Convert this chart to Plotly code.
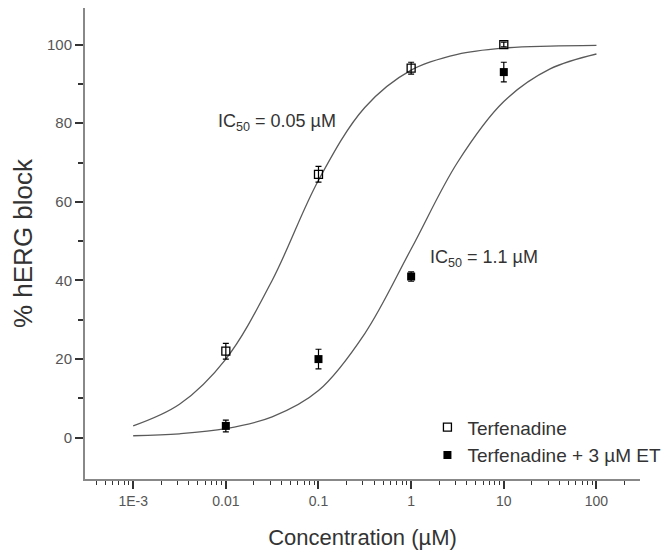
import plotly.graph_objects as go

# measured data points
conc = [0.01, 0.1, 1, 10]
terf = [22, 67, 94, 100]
terf_err = [2, 2, 1.5, 0.6]
terf_et = [3, 20, 41, 93]
terf_et_err = [1.5, 2.5, 1.2, 2.5]

# fitted curves (at half-decade steps)
fit_x = [0.001, 0.00316, 0.01, 0.0316, 0.1, 0.316, 1, 3.16, 10, 31.6, 100]
fit_terf = [3, 8.5, 20, 40, 65.5, 84, 93.5, 97.5, 99.1, 99.6, 99.8]
fit_terf_et = [0.5, 1.0, 2.3, 5.3, 12, 26.5, 48, 70, 85.5, 93.8, 97.6]

x_tickvals = [0.001, 0.01, 0.1, 1, 10, 100]
x_ticktext = ["1E-3", "0.01", "0.1", "1", "10", "100"]
y_tickvals = [0, 20, 40, 60, 80, 100]
y_minor = [10, 30, 50, 70, 90]
x_minor = [k * 10.0 ** e for e in range(-4, 3) for k in range(2, 10)]

FONT = "Liberation Sans, Arial, sans-serif"

fig = go.Figure()
fig.add_trace(go.Scatter(x=fit_x, y=fit_terf, mode="lines", line=dict(color="#5a5a5a", width=1.3, shape="spline"),
                         showlegend=False, hoverinfo="skip"))
fig.add_trace(go.Scatter(x=fit_x, y=fit_terf_et, mode="lines", line=dict(color="#5a5a5a", width=1.3, shape="spline"),
                         showlegend=False, hoverinfo="skip"))
fig.add_trace(go.Scatter(x=conc, y=terf, mode="markers", name="Terfenadine",
                         marker=dict(symbol="square-open", size=8, color="black", line=dict(width=1.3)),
                         error_y=dict(type="data", array=terf_err, color="black", thickness=1.2, width=3)))
fig.add_trace(go.Scatter(x=conc, y=terf_et, mode="markers", name="Terfenadine + 3 µM ET",
                         marker=dict(symbol="square", size=8, color="black"),
                         error_y=dict(type="data", array=terf_et_err, color="black", thickness=1.2, width=3)))

fig.add_annotation(x=0.236, y=0.756, xref="paper", yref="paper", xanchor="left", yanchor="middle",
                   text="IC<sub>50</sub> = 0.05 µM", showarrow=False, font=dict(family=FONT, size=18, color="#333"))
fig.add_annotation(x=0.618, y=0.469, xref="paper", yref="paper", xanchor="left", yanchor="middle",
                   text="IC<sub>50</sub> = 1.1 µM", showarrow=False, font=dict(family=FONT, size=18, color="#333"))

fig.update_layout(
    width=662, height=550,
    margin=dict(l=77, r=30, t=0, b=79, pad=0),
    paper_bgcolor="white", plot_bgcolor="white",
    font=dict(family=FONT, color="#333"),
    legend=dict(x=0.617, y=0.15, xanchor="left", yanchor="top", bgcolor="rgba(0,0,0,0)",
                font=dict(family=FONT, size=19, color="#333"), itemwidth=30, tracegroupgap=2),
    xaxis=dict(type="log", range=[-3.52, 2.47], tickvals=x_tickvals, ticktext=x_ticktext,
               showline=True, linecolor="#888", linewidth=2, ticks="outside", ticklen=8, tickwidth=1.5,
               tickcolor="#333", showgrid=False, zeroline=False,
               tickfont=dict(family=FONT, size=14, color="#555"),
               minor=dict(tickvals=x_minor, ticks="outside", ticklen=4, tickwidth=1.2, tickcolor="#333"),
               title=dict(text="Concentration (µM)", font=dict(family=FONT, size=22, color="#333"), standoff=22)),
    yaxis=dict(range=[-10.5, 109.3], tickvals=y_tickvals,
               showline=True, linecolor="#888", linewidth=2, ticks="outside", ticklen=8, tickwidth=1.8,
               tickcolor="#333", showgrid=False, zeroline=False,
               tickfont=dict(family=FONT, size=15, color="#555"),
               minor=dict(tickvals=y_minor, ticks="outside", ticklen=5, tickwidth=1.5, tickcolor="#333"),
               title=dict(text="% hERG block", font=dict(family=FONT, size=26, color="#333"), standoff=7)),
)

fig.write_html("out.html")
